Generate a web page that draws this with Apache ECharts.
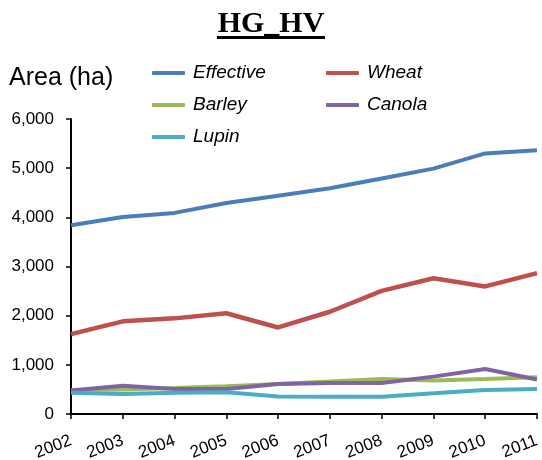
<!DOCTYPE html>
<html>
<head>
<meta charset="utf-8">
<script src="https://cdn.jsdelivr.net/npm/echarts@6/dist/echarts.min.js"></script>
<style>
  html, body { margin: 0; padding: 0; background: #fff; }
  #container { width: 542px; height: 460px; }
</style>
</head>
<body>
<div id="container"></div>
<script>
let years = ["2002", "2003", "2004", "2005", "2006", "2007", "2008", "2009", "2010", "2011"];
let effective = [3840, 4005, 4090, 4290, 4440, 4590, 4790, 4990, 5300, 5365];
let wheat = [1625, 1885, 1945, 2050, 1760, 2080, 2505, 2760, 2595, 2865];
let barley = [490, 500, 530, 565, 610, 660, 712, 680, 712, 745];
let canola = [480, 575, 510, 510, 610, 630, 632, 760, 915, 700];
let lupin = [430, 408, 430, 440, 355, 352, 352, 420, 490, 510];

let colors = {
  Effective: "#4A7EBB",
  Wheat: "#C0504D",
  Barley: "#9BBB59",
  Canola: "#8064A2",
  Lupin: "#4BACC6",
};

let dom = document.getElementById("container");
let myChart = echarts.init(dom, null, { renderer: "canvas" });

function mkSeries(name, data, w) {
  return {
    name: name,
    type: "line",
    data: data,
    showSymbol: false,
    symbol: "none",
    lineStyle: { width: w, color: colors[name] },
    itemStyle: { color: colors[name] },
  };
}

let legendText = {
  fontFamily: "Liberation Sans",
  fontStyle: "italic",
  fontSize: 19,
  color: "#000",
  lineHeight: 20,
  padding: [0, 0, 0, 3],
};

let option = {
  animation: false,
  title: [
    {
      text: "HG_HV",
      left: "center",
      top: 4,
      textStyle: {
        fontFamily: "Liberation Serif",
        fontWeight: "bold",
        fontSize: 30,
        color: "#000",
      },
    },
    {
      text: "Area (ha)",
      left: 4,
      top: 61,
      textStyle: {
        fontFamily: "Liberation Sans",
        fontWeight: "normal",
        fontSize: 25,
        color: "#000",
      },
    },
  ],
  graphic: [
    {
      type: "rect",
      left: "center",
      top: 36,
      shape: { width: 108, height: 3 },
      style: { fill: "#000" },
    },
  ],
  legend: [
    {
      data: ["Effective", "Barley", "Lupin"],
      orient: "vertical",
      left: 152,
      top: 63,
      padding: 0,
      itemGap: 12,
      itemWidth: 33,
      itemHeight: 4,
      icon: "roundRect",
      textStyle: legendText,
    },
    {
      data: ["Wheat", "Canola"],
      orient: "vertical",
      left: 326,
      top: 63,
      padding: 0,
      itemGap: 12,
      itemWidth: 33,
      itemHeight: 4,
      icon: "roundRect",
      textStyle: legendText,
    },
  ],
  grid: {
    left: 71,
    right: 5,
    top: 119,
    bottom: 46,
    containLabel: false,
    outerBoundsMode: "none",
  },
  xAxis: {
    type: "category",
    data: years,
    boundaryGap: false,
    axisLine: { lineStyle: { color: "#000", width: 2 } },
    axisTick: { show: true, alignWithLabel: true, length: 5, lineStyle: { color: "#000", width: 1.5 } },
    axisLabel: {
      rotate: 21,
      margin: 26,
      interval: 0,
      fontFamily: "Liberation Sans",
      fontSize: 17,
      color: "#000",
    },
    splitLine: { show: false },
  },
  yAxis: {
    type: "value",
    min: 0,
    max: 6000,
    interval: 1000,
    axisLine: { show: true, lineStyle: { color: "#000", width: 2 } },
    axisTick: { show: true, length: 5, lineStyle: { color: "#000", width: 1.5 } },
    axisLabel: {
      margin: 17,
      fontFamily: "Liberation Sans",
      fontSize: 17,
      color: "#000",
      formatter: function (v) {
        return v.toLocaleString("en-US");
      },
    },
    splitLine: { show: false },
  },
  series: [
    mkSeries("Effective", effective, 4),
    mkSeries("Wheat", wheat, 4.5),
    mkSeries("Barley", barley, 4),
    mkSeries("Canola", canola, 4),
    mkSeries("Lupin", lupin, 4),
  ],
};

myChart.setOption(option);
window.addEventListener("resize", myChart.resize);
</script>
</body>
</html>
